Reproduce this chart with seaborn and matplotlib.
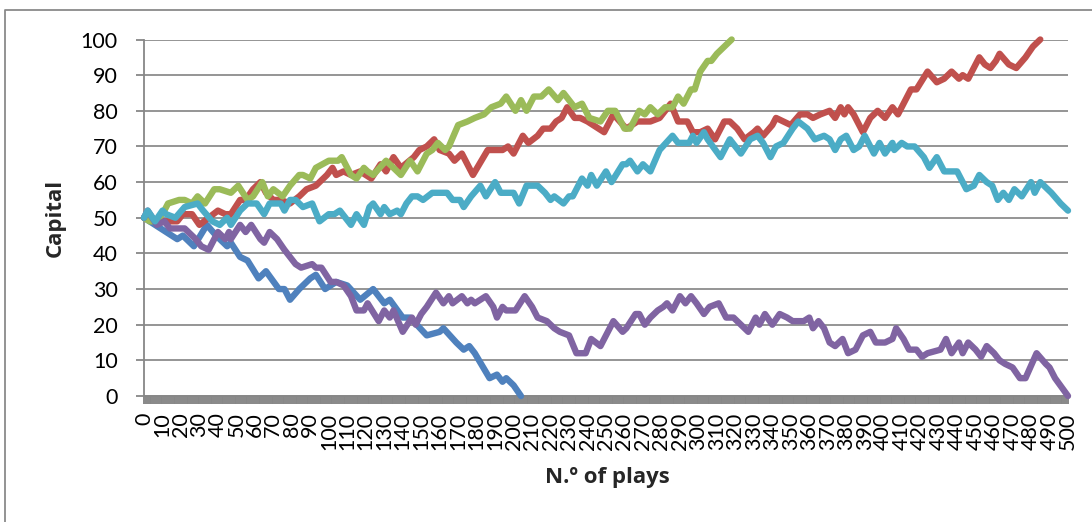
import numpy as np
import pandas as pd
import seaborn as sns
import matplotlib
matplotlib.use("Agg")
import matplotlib.pyplot as plt
from matplotlib.lines import Line2D

# ---------------- data ----------------
blue_plays = [0, 9, 18, 21, 27, 34, 39, 45, 47, 52, 56, 62, 66, 73, 76, 79, 84, 90, 93, 98,
              104, 110, 117, 124, 130, 133, 140, 144, 153, 160, 162, 169, 173, 176, 179,
              187, 191, 194, 196, 200, 204]
blue_vals = [50, 47, 44, 45, 42, 48, 45, 42, 43, 39, 38, 33, 35, 30, 30, 27, 30, 33, 34, 30,
             32, 31, 27, 30, 26, 27, 22, 22, 17, 18, 19, 15, 13, 14, 12,
             5, 6, 4, 5, 3, 0]

red_plays = [0, 11, 18, 21, 26, 30, 40, 44, 47, 52, 55, 59, 63, 66, 70, 74, 79, 84, 88, 93,
             99, 102, 104, 108, 112, 117, 123, 128, 131, 135, 139, 146, 149, 153, 157, 160,
             165, 168, 172, 178, 186, 191, 194, 197, 200, 205, 208, 213, 216, 220, 223, 226,
             229, 233, 236, 240, 243, 249, 254, 261, 267, 274, 279, 285, 289, 294, 297, 301,
             305, 309, 314, 317, 321, 325, 330, 332, 335, 340, 342, 346, 350, 355, 359, 362,
             366, 371, 374, 377, 379, 381, 384, 389, 393, 397, 401, 405, 408, 415, 418, 424,
             429, 433, 437, 441, 443, 446, 452, 455, 458, 461, 463, 468, 472, 477, 481, 485]
red_vals = [50, 49, 49, 51, 51, 48, 52, 51, 51, 55, 55, 58, 60, 57, 55, 55, 54, 56, 58, 59,
            62, 64, 62, 63, 62, 63, 61, 65, 63, 67, 64, 67, 69, 70, 72, 69,
            68, 66, 68, 62, 69, 69, 69, 70, 68, 73, 71, 73, 75, 75, 77, 78,
            81, 78, 78, 77, 76, 74, 79, 75, 77, 77, 78, 82, 77, 77, 74, 74,
            75, 72, 77, 77, 75, 72, 74, 75, 73, 76, 78, 77, 76, 79, 79, 78,
            79, 80, 78, 81, 79, 81, 79, 74, 78, 80, 78, 81, 79, 86, 86, 91,
            88, 89, 91, 89, 90, 89, 95, 93, 92, 94, 96, 93, 92, 95, 98, 100]

green_plays = [0, 3, 7, 11, 13, 19, 22, 26, 29, 33, 38, 41, 47, 51, 56, 59, 64, 67, 70, 75,
               79, 84, 86, 90, 93, 100, 105, 107, 112, 115, 119, 121, 124, 131, 135, 139,
               144, 148, 153, 156, 159, 163, 165, 170, 175, 179, 184, 188, 193, 196, 201,
               204, 207, 211, 215, 219, 224, 227, 233, 237, 241, 247, 251, 255, 260, 263,
               268, 271, 274, 278, 282, 286, 289, 292, 296, 298, 301, 305, 307, 310, 314, 318]
green_vals = [50, 49, 49, 52, 54, 55, 55, 54, 56, 54, 58, 58, 57, 59, 55, 56, 60, 56, 58, 56,
              59, 62, 62, 61, 64, 66, 66, 67, 62, 61, 64, 63, 62, 66, 64, 62,
              66, 63, 68, 69, 71, 69, 70, 76, 77, 78, 79, 81, 82, 84, 80,
              83, 80, 84, 84, 86, 83, 85, 81, 82, 78, 77, 80, 80, 75, 75,
              80, 79, 81, 79, 81, 81, 84, 82, 86, 86, 91, 94, 94, 96, 98, 100]

purple_plays = [0, 2, 7, 11, 14, 19, 22, 28, 31, 35, 40, 44, 46, 47, 52, 55, 58, 63, 65, 68,
                72, 76, 82, 85, 91, 93, 96, 101, 104, 108, 112, 115, 119, 121, 127, 130,
                133, 135, 140, 145, 147, 150, 153, 158, 162, 165, 167, 172, 175, 177, 179,
                185, 189, 191, 194, 196, 201, 206, 210, 213, 218, 222, 225, 230, 234, 239,
                242, 247, 250, 254, 259, 261, 266, 268, 271, 274, 278, 281, 283, 286, 290,
                293, 296, 299, 303, 306, 311, 315, 319, 323, 327, 331, 333, 336, 340, 344,
                348, 351, 357, 360, 362, 365, 368, 371, 374, 378, 381, 385, 389, 393, 396,
                401, 405, 407, 411, 414, 418, 421, 424, 431, 434, 437, 441, 443, 446, 450,
                453, 456, 460, 463, 466, 470, 474, 477, 483, 488, 490, 493, 500]
purple_vals = [50, 52, 48, 49, 47, 47, 47, 44, 42, 41, 46, 44, 46, 44, 48, 46, 48, 44, 43, 46,
               44, 41, 37, 36, 37, 36, 36, 32, 32, 31, 28, 24, 24, 26, 21, 24,
               22, 24, 18, 22, 20, 23, 25, 29, 26, 28, 26, 28, 26, 27, 26,
               28, 25, 22, 25, 24, 24, 28, 25, 22, 21, 19, 18, 17, 12, 12,
               16, 14, 17, 21, 18, 19, 23, 23, 20, 22, 24, 25, 26, 24, 28,
               26, 28, 26, 23, 25, 26, 22, 22, 20, 18, 22, 20, 23, 20, 23,
               22, 21, 21, 22, 19, 21, 19, 15, 14, 16, 12, 13, 17, 18, 15,
               15, 16, 19, 16, 13, 13, 11, 12, 13, 16, 12, 15, 12, 15, 13,
               11, 14, 12, 10, 9, 8, 5, 5, 12, 9, 8, 5, 0]

aqua_plays = [0, 2, 6, 10, 12, 17, 22, 29, 32, 37, 41, 45, 47, 52, 56, 61, 65, 68, 74, 76,
              79, 82, 86, 91, 95, 100, 103, 106, 112, 115, 119, 122, 124, 128, 130, 133,
              137, 139, 142, 145, 148, 151, 156, 164, 167, 171, 173, 177, 182, 185, 190,
              193, 200, 203, 207, 213, 217, 220, 222, 227, 230, 232, 237, 240, 242, 245,
              250, 253, 259, 261, 263, 267, 270, 274, 279, 286, 289, 295, 297, 299, 303,
              305, 312, 317, 320, 323, 328, 332, 335, 339, 342, 346, 351, 354, 359, 363,
              368, 371, 374, 377, 380, 384, 387, 390, 395, 398, 401, 405, 406, 410, 413,
              417, 422, 425, 429, 433, 440, 445, 449, 452, 456, 459, 462, 465, 468, 471,
              475, 480, 482, 485, 491, 496, 498, 500]
aqua_vals = [50, 52, 49, 52, 51, 50, 53, 54, 52, 49, 48, 50, 48, 52, 54, 54, 51, 54, 54, 52,
             55, 55, 53, 54, 49, 51, 51, 52, 48, 51, 48, 53, 54, 51, 53, 51,
             52, 51, 54, 56, 56, 55, 57, 57, 55, 55, 53, 56, 59, 56, 60,
             57, 57, 54, 59, 59, 57, 55, 56, 54, 56, 56, 61, 59, 62, 59,
             63, 60, 65, 65, 66, 63, 65, 63, 69, 73, 71, 71, 73, 71, 74,
             72, 67, 72, 70, 68, 72, 73, 71, 67, 70, 71, 75, 77, 75, 72,
             73, 72, 69, 72, 73, 69, 70, 73, 68, 71, 68, 71, 69, 71, 70,
             70, 67, 64, 67, 63, 63, 58, 59, 62, 60, 59, 55, 57, 55, 58,
             56, 60, 57, 60, 57, 54, 53, 52]

series_names = ["Series1", "Series2", "Series3", "Series4", "Series5"]
series_colors = ["#4F81BD", "#C0504D", "#9BBB59", "#8064A2", "#4BACC6"]

y_ticks = list(range(0, 101, 10))
x_ticks = list(range(0, 501, 10))
x_label = "N.º of plays"
y_label = "Capital"

# ---------------- build table ----------------
frames = []
for name, p, v in zip(series_names,
                      [blue_plays, red_plays, green_plays, purple_plays, aqua_plays],
                      [blue_vals, red_vals, green_vals, purple_vals, aqua_vals]):
    frames.append(pd.DataFrame({"play": p, "capital": v, "series": name}))
df = pd.concat(frames, ignore_index=True)

# ---------------- style ----------------
sns.set_style("white")
plt.rcParams["font.family"] = ["Lato", "DejaVu Sans"]

W, H = 1092, 522
fig = plt.figure(figsize=(W / 100, H / 100), dpi=100)
ax = fig.add_axes([144 / W, 1 - 396 / H, 924 / W, 356.5 / H])

grey = "#878787"

ax.set_axisbelow(True)
ax.yaxis.grid(True, color="#8c8c8c", linewidth=1.3)
ax.xaxis.grid(False)

sns.lineplot(data=df, x="play", y="capital", hue="series", hue_order=series_names,
             palette=series_colors, estimator=None, sort=True, legend=False,
             linewidth=4.6, ax=ax)
for ln in ax.lines:
    ln.set_solid_joinstyle("round")
    ln.set_solid_capstyle("round")
    ln.set_clip_on(False)
    ln.set_zorder(3)

ax.set_xlim(0, 500)
ax.set_ylim(0, 100)

ax.set_yticks(y_ticks)
ax.set_yticklabels([str(t) for t in y_ticks], fontsize=15.5, color="black")
ax.set_xticks(x_ticks)
ax.set_xticklabels([str(t) for t in x_ticks], rotation=90, fontsize=15.5, color="black")
ax.set_xticks(np.arange(0, 501, 1), minor=True)

ax.tick_params(axis="y", which="major", direction="out", length=5.8, width=1.3,
               color=grey, pad=13, left=True)
ax.tick_params(axis="x", which="major", direction="out", length=5.8, width=1.4,
               color=grey, pad=6, bottom=True)
ax.tick_params(axis="x", which="minor", direction="out", length=5.8, width=1.4,
               color=grey, bottom=True)

for s in ["top", "right"]:
    ax.spines[s].set_visible(False)
for s in ["left", "bottom"]:
    ax.spines[s].set_color(grey)
    ax.spines[s].set_linewidth(1.3)
    ax.spines[s].set_visible(True)

title_font = ["Open Sans", "DejaVu Sans"]
ax.set_xlabel(x_label, fontsize=16, fontweight="bold", family=title_font)
ax.set_ylabel(y_label, fontsize=16, fontweight="bold", family=title_font)
ax.xaxis.set_label_coords((607 - 144) / 924, (396 - 478) / 356.5)
ax.yaxis.set_label_coords((55 - 144) / 924, 0.5)
ax.xaxis.label.set_verticalalignment("center")
ax.yaxis.label.set_verticalalignment("center")

# outer chart border (left and top visible in the reference)
fig.add_artist(Line2D([5 / W, 5 / W, 1.0], [0.0, 1 - 10 / H, 1 - 10 / H],
                      transform=fig.transFigure, color="#8a8a8a", linewidth=1.3))

fig.savefig("out.png", dpi=100)
